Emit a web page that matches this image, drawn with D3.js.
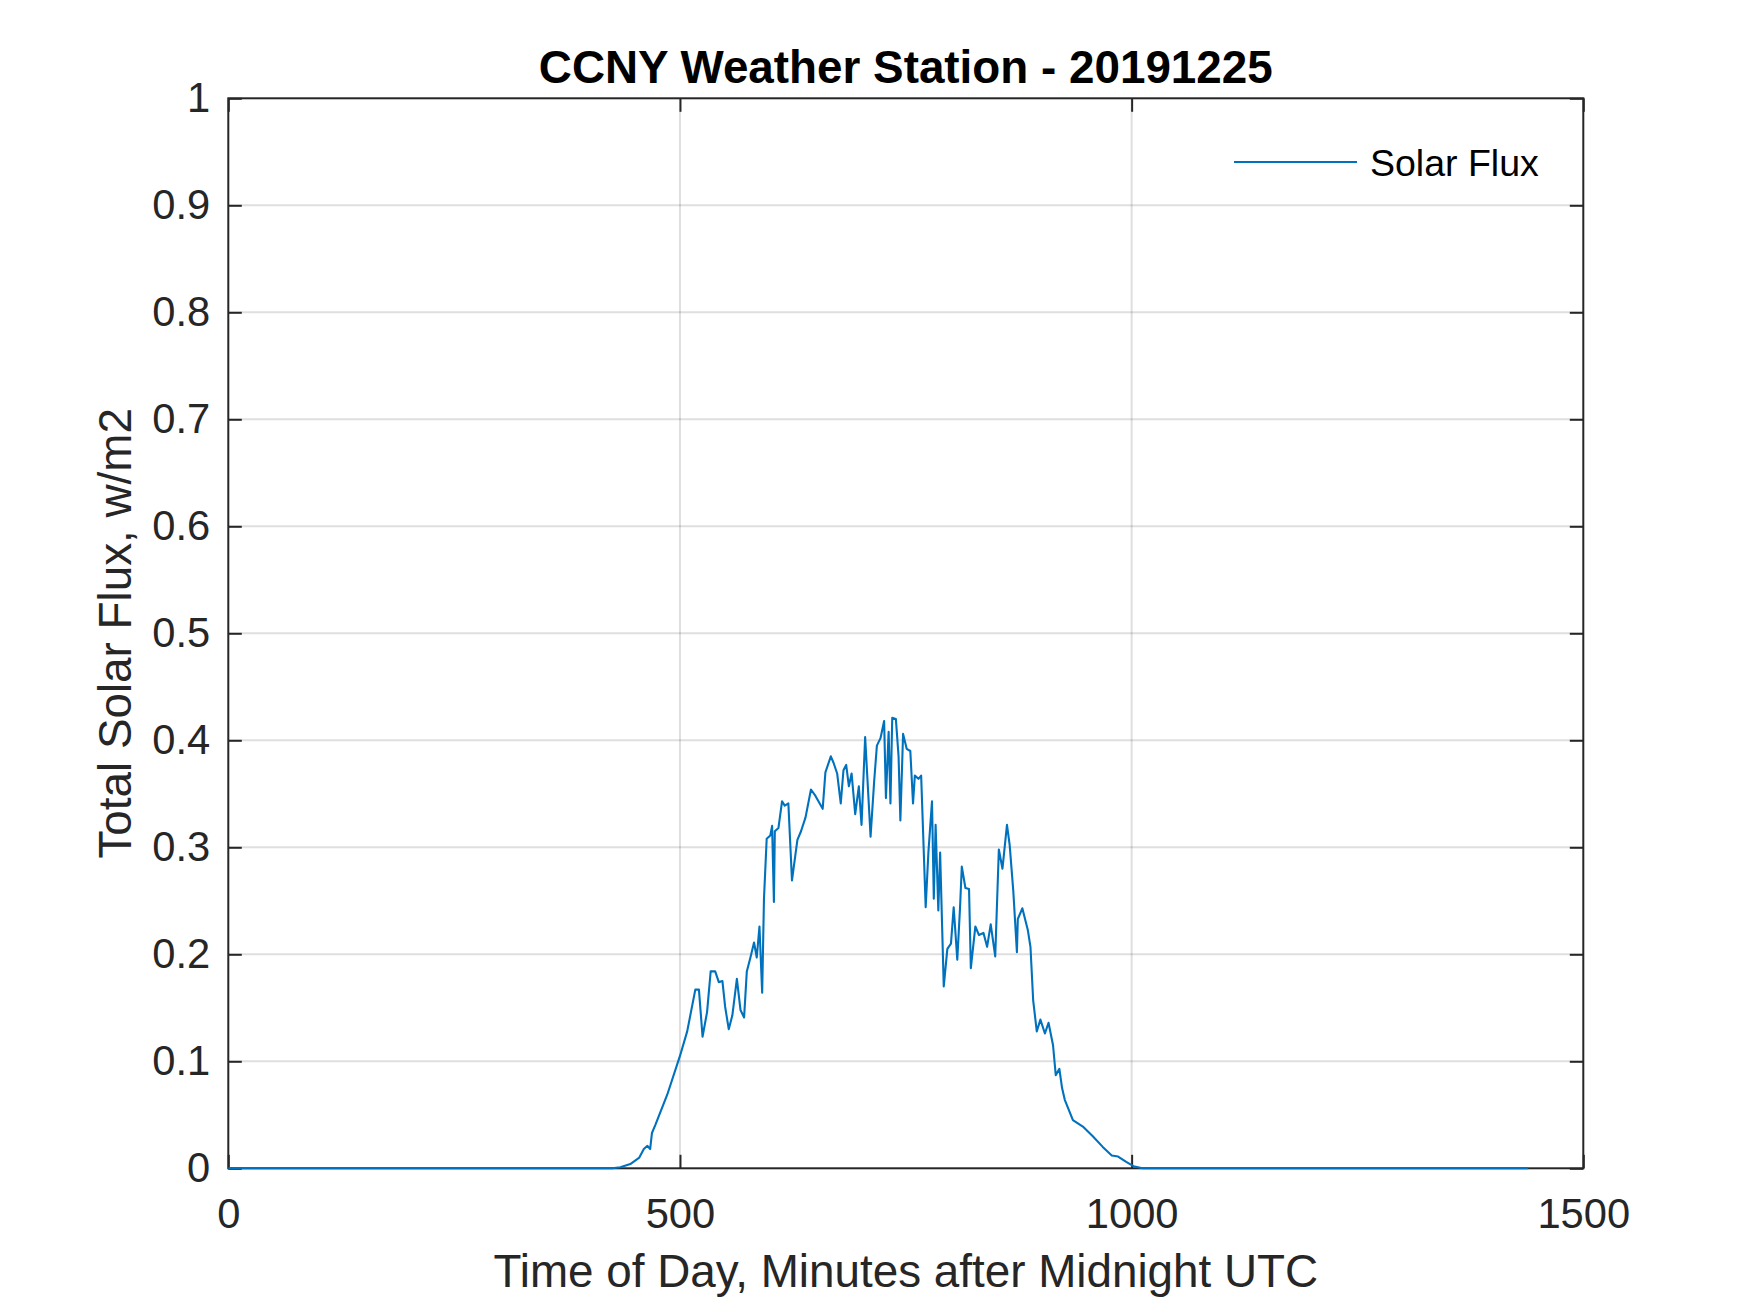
<!DOCTYPE html>
<html lang="en">

<head>
  <meta charset="UTF-8" />
  <script src="https://d3js.org/d3.v7.min.js"></script>
  <title>CCNY Weather Station - 20191225</title>
  <style>
    body { margin: 0; background: #fff; }
    svg { display: block; font-family: "Liberation Sans", Arial, Helvetica, sans-serif; }
  </style>
</head>

<body>
  <svg width="1750" height="1313"></svg>

  <script>
    // Minutes after midnight UTC
    const minutes = [0, 425, 434, 445, 455, 460, 464, 467, 469, 473, 486, 500, 508, 517, 521, 525, 530, 534, 539, 543,
      547, 550, 554, 558, 563, 567, 571, 574, 578, 582, 585, 588, 591, 593, 596, 600, 602, 604, 605, 609, 613, 616, 620,
      624, 630, 634, 639, 645, 650, 658, 661, 667, 670, 674, 678, 681, 684, 687, 690, 694, 698, 701, 705, 711, 715, 718,
      722, 726, 728, 731, 733, 735, 739, 742, 744, 747, 751, 755, 758, 760, 764, 767, 772, 775, 779, 781, 783, 786, 788,
      792, 796, 800, 803, 807, 810, 812, 816, 820, 822, 827, 831, 836, 840, 844, 849, 853, 857, 862, 865, 869, 873, 874,
      879, 885, 888, 891, 895, 899, 904, 908, 913, 916, 920, 923, 926, 935, 946, 957, 968, 978, 985, 994, 1002, 1012, 1439];

    // Total solar flux at those minutes
    const flux = [0, 0, 0.001, 0.004, 0.010, 0.018, 0.021, 0.018, 0.033, 0.041, 0.069, 0.105, 0.128, 0.167, 0.167, 0.123,
      0.146, 0.184, 0.184, 0.174, 0.175, 0.151, 0.130, 0.143, 0.177, 0.148, 0.141, 0.184, 0.197, 0.211, 0.197, 0.226, 0.164,
      0.252, 0.308, 0.311, 0.320, 0.249, 0.315, 0.318, 0.343, 0.339, 0.341, 0.269, 0.307, 0.315, 0.328, 0.354, 0.348, 0.336,
      0.370, 0.385, 0.379, 0.369, 0.341, 0.372, 0.377, 0.357, 0.369, 0.331, 0.357, 0.321, 0.403, 0.310, 0.362, 0.395, 0.402,
      0.418, 0.346, 0.408, 0.341, 0.421, 0.420, 0.385, 0.325, 0.406, 0.392, 0.390, 0.341, 0.367, 0.364, 0.367, 0.244, 0.295,
      0.343, 0.252, 0.321, 0.241, 0.295, 0.170, 0.205, 0.210, 0.244, 0.195, 0.243, 0.282, 0.262, 0.261, 0.187, 0.226, 0.218,
      0.220, 0.207, 0.228, 0.198, 0.298, 0.280, 0.321, 0.302, 0.259, 0.202, 0.233, 0.243, 0.223, 0.207, 0.157, 0.128, 0.139,
      0.126, 0.136, 0.115, 0.087, 0.093, 0.075, 0.064, 0.045, 0.039, 0.030, 0.020, 0.012, 0.011, 0.006, 0.002, 0, 0];

    const xTicks = [0, 500, 1000, 1500];
    const yTicks = [0, 0.1, 0.2, 0.3, 0.4, 0.5, 0.6, 0.7, 0.8, 0.9, 1];

    const svg = d3.select("svg");

    const margin = { top: 98.3, left: 228.3 };
    const width = 1355;
    const height = 1070;
    const tickLen = 13.5;
    const axisColor = "#262626";

    const x = d3.scaleLinear().domain([0, 1500]).range([0, width]);
    const y = d3.scaleLinear().domain([0, 1]).range([height, 0]);

    const chart = svg.append("g")
      .attr("transform", `translate(${margin.left},${margin.top})`);

    // grid
    chart.append("g").selectAll("line")
      .data(xTicks.slice(1, -1))
      .join("line")
      .attr("x1", d => x(d)).attr("x2", d => x(d))
      .attr("y1", 0).attr("y2", height)
      .attr("stroke", axisColor).attr("stroke-opacity", 0.15).attr("stroke-width", 2);

    chart.append("g").selectAll("line")
      .data(yTicks.slice(1, -1))
      .join("line")
      .attr("x1", 0).attr("x2", width)
      .attr("y1", d => y(d)).attr("y2", d => y(d))
      .attr("stroke", axisColor).attr("stroke-opacity", 0.15).attr("stroke-width", 2);

    // axes with inward ticks
    const fmtX = d3.format("d");
    const fmtY = d3.format("~g");

    const xAxis = chart.append("g")
      .attr("transform", `translate(0,${height})`)
      .call(d3.axisBottom(x).tickValues(xTicks).tickFormat(fmtX).tickSizeInner(-tickLen).tickSizeOuter(0).tickPadding(30));

    const yAxis = chart.append("g")
      .call(d3.axisLeft(y).tickValues(yTicks).tickFormat(fmtY).tickSizeInner(-tickLen).tickSizeOuter(0).tickPadding(18));

    const topAxis = chart.append("g")
      .call(d3.axisTop(x).tickValues(xTicks).tickSizeInner(-tickLen).tickSizeOuter(0).tickFormat(""));

    const rightAxis = chart.append("g")
      .attr("transform", `translate(${width},0)`)
      .call(d3.axisRight(y).tickValues(yTicks).tickSizeInner(-tickLen).tickSizeOuter(0).tickFormat(""));

    [xAxis, yAxis, topAxis, rightAxis].forEach(a => {
      a.select(".domain").remove();
      a.selectAll(".tick line").attr("stroke", axisColor).attr("stroke-width", 2);
      a.selectAll(".tick text")
        .attr("fill", axisColor)
        .style("font-size", "41.7px")
        .style("font-family", "'Liberation Sans', Arial, sans-serif");
    });

    // box
    chart.append("rect")
      .attr("width", width)
      .attr("height", height)
      .attr("fill", "none")
      .attr("stroke", axisColor)
      .attr("stroke-width", 2);

    // data line
    const line = d3.line()
      .x((d, i) => x(minutes[i]))
      .y(d => y(d));

    chart.append("path")
      .datum(flux)
      .attr("d", line)
      .attr("fill", "none")
      .attr("stroke", "#0072BD")
      .attr("stroke-width", 2.1)
      .attr("stroke-linejoin", "round");

    // title and labels
    svg.append("text")
      .attr("x", margin.left + width / 2)
      .attr("y", 83)
      .attr("text-anchor", "middle")
      .style("font-size", "45.8px")
      .style("font-weight", "bold")
      .attr("fill", "#000")
      .text("CCNY Weather Station - 20191225");

    svg.append("text")
      .attr("x", margin.left + width / 2)
      .attr("y", 1287)
      .attr("text-anchor", "middle")
      .style("font-size", "45.8px")
      .attr("fill", axisColor)
      .text("Time of Day, Minutes after Midnight UTC");

    svg.append("text")
      .attr("transform", `translate(131,${margin.top + height / 2}) rotate(-90)`)
      .attr("text-anchor", "middle")
      .style("font-size", "45.8px")
      .attr("fill", axisColor)
      .text("Total Solar Flux, w/m2");

    // legend
    const legend = svg.append("g");
    legend.append("line")
      .attr("x1", 1234).attr("x2", 1357)
      .attr("y1", 162).attr("y2", 162)
      .attr("stroke", "#0072BD")
      .attr("stroke-width", 2.1);
    legend.append("text")
      .attr("x", 1370)
      .attr("y", 176)
      .style("font-size", "37.5px")
      .attr("fill", "#000")
      .text("Solar Flux");
  </script>
</body>

</html>
